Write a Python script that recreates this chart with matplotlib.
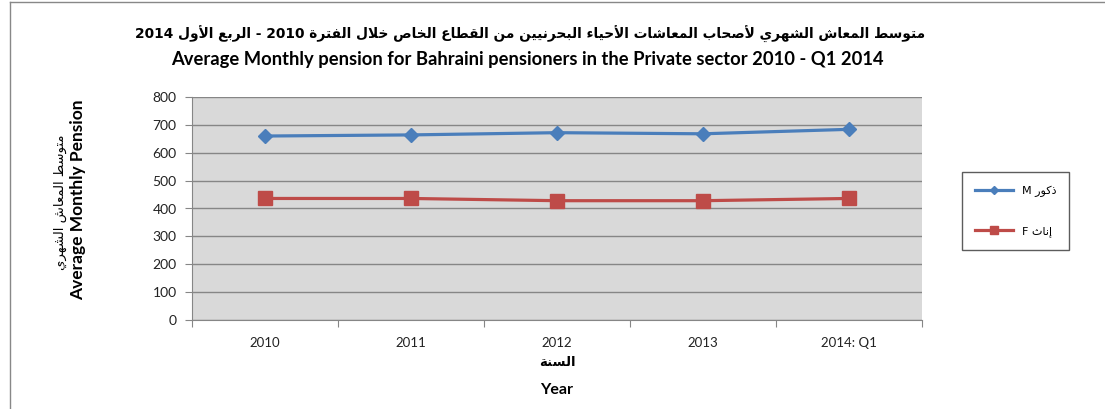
import numpy as np
import matplotlib
matplotlib.use('Agg')
import matplotlib.pyplot as plt
from matplotlib.lines import Line2D

plt.rcParams['font.family'] = ['Lato', 'DejaVu Sans']

# datos
years = ['2010', '2011', '2012', '2013', '2014: Q1']
male = [660, 664, 672, 668, 684]
female = [436, 436, 428, 428, 436]

title_ar = 'متوسط المعاش الشهري لأصحاب المعاشات الأحياء البحرنيين من القطاع الخاص خلال الفترة 2010 - الربع الأول 2014'
title_en = 'Average Monthly pension for Bahraini pensioners in the Private sector 2010 - Q1 2014'
ylabel_ar = 'متوسط المعاش الشهري'
ylabel_en = 'Average Monthly Pension'
xlabel_ar = 'السنة'
xlabel_en = 'Year'
legend_m = 'ذكور M'
legend_f = 'إناث F'

# formas de presentación árabes: (código aislado, tipo de unión)
# D = se une por ambos lados, R = solo a la derecha, U = no se une
FORMS = {
    'ء': (0xFE80, 'U'), 'أ': (0xFE83, 'R'), 'إ': (0xFE87, 'R'), 'ا': (0xFE8D, 'R'),
    'ب': (0xFE8F, 'D'), 'ة': (0xFE93, 'R'), 'ت': (0xFE95, 'D'), 'ث': (0xFE99, 'D'),
    'ح': (0xFEA1, 'D'), 'خ': (0xFEA5, 'D'), 'ذ': (0xFEAB, 'R'), 'ر': (0xFEAD, 'R'),
    'س': (0xFEB1, 'D'), 'ش': (0xFEB5, 'D'), 'ص': (0xFEB9, 'D'), 'ط': (0xFEC1, 'D'),
    'ع': (0xFEC9, 'D'), 'ف': (0xFED1, 'D'), 'ق': (0xFED5, 'D'), 'ك': (0xFED9, 'D'),
    'ل': (0xFEDD, 'D'), 'م': (0xFEE1, 'D'), 'ن': (0xFEE5, 'D'), 'ه': (0xFEE9, 'D'),
    'و': (0xFEED, 'R'), 'ي': (0xFEF1, 'D'),
}
LAM_ALEF = {'ا': 0xFEFB, 'أ': 0xFEF7, 'إ': 0xFEF9}


def shape_word(w):
    toks = []
    i = 0
    while i < len(w):
        if w[i] == 'ل' and i + 1 < len(w) and w[i + 1] in LAM_ALEF:
            toks.append((LAM_ALEF[w[i + 1]], 'R'))
            i += 2
        else:
            toks.append(FORMS.get(w[i], (ord(w[i]), 'X')))
            i += 1
    out = []
    for k, (base, kind) in enumerate(toks):
        if kind == 'X':
            out.append(chr(base))
            continue
        prev_j = k > 0 and toks[k - 1][1] == 'D' and kind in 'DR'
        next_j = kind == 'D' and k + 1 < len(toks) and toks[k + 1][1] in 'DR'
        if kind == 'U':
            off = 0
        elif prev_j and next_j:
            off = 3
        elif next_j:
            off = 2
        elif prev_j:
            off = 1
        else:
            off = 0
        out.append(chr(base + off))
    return ''.join(reversed(out))


def ar(text):
    words = text.split(' ')
    res = []
    for w in reversed(words):
        if any('\u0600' <= c <= '\u06ff' for c in w):
            res.append(shape_word(w))
        else:
            res.append(w)
    return ' '.join(res)


fig = plt.figure(figsize=(11.05, 4.09), dpi=100)
ax = fig.add_axes([192 / 1105, 1 - 320 / 409, 730 / 1105, 223 / 409])

x = np.arange(len(years))
ax.plot(x, male, color='#4a7ebb', lw=2.3, marker='D', ms=7, label=ar(legend_m), zorder=3)
ax.plot(x, female, color='#be4b48', lw=2.3, marker='s', ms=10.5, label=ar(legend_f), zorder=3)

ax.set_facecolor('#d9d9d9')
ax.set_xlim(-0.5, len(years) - 0.5)
ax.set_ylim(0, 800)
ax.set_yticks(np.arange(0, 801, 100))
ax.yaxis.grid(True, color='#868686', lw=1)
ax.set_axisbelow(True)

ax.set_xticks(np.arange(-0.5, len(years), 1))
ax.set_xticklabels([])
ax.set_xticks(x, minor=True)
ax.set_xticklabels(years, minor=True)
ax.tick_params(axis='x', which='minor', length=0, pad=12, labelsize=9.5, colors='#222222')
ax.tick_params(axis='x', which='major', length=5, color='#868686')
ax.tick_params(axis='y', length=5, color='#868686', labelsize=10, labelcolor='#222222', pad=6)

for s in ['top', 'right']:
    ax.spines[s].set_visible(False)
for s in ['left', 'bottom']:
    ax.spines[s].set_color('#868686')

# títulos
fig.text(530 / 1105, 1 - 34 / 409, ar(title_ar), ha='center', va='center', fontsize=9.9,
         fontweight='bold', family='DejaVu Sans')
fig.text(527 / 1105, 1 - 60 / 409, title_en, ha='center', va='center', fontsize=13.2,
         fontweight='bold')

# etiquetas de ejes
fig.text(60 / 1105, 1 - 202 / 409, ar(ylabel_ar), rotation=90, ha='center', va='center',
         fontsize=9.5, family='DejaVu Sans')
fig.text(78 / 1105, 1 - 200 / 409, ylabel_en, rotation=90, ha='center', va='center',
         fontsize=12.5, fontweight='bold')
fig.text(557 / 1105, 1 - 362 / 409, ar(xlabel_ar), ha='center', va='center', fontsize=9.5,
         fontweight='bold', family='DejaVu Sans')
fig.text(557 / 1105, 1 - 390 / 409, xlabel_en, ha='center', va='center', fontsize=11.5,
         fontweight='bold')

leg = ax.legend(loc='center left', bbox_to_anchor=(956 / 1105, 1 - 211 / 409),
                bbox_transform=fig.transFigure, frameon=True, fancybox=False,
                edgecolor='#333333', labelspacing=2.6, handlelength=3.4,
                borderpad=1.2, markerscale=0.6, prop={'family': 'DejaVu Sans', 'size': 8})
leg.get_frame().set_linewidth(1)

# marco exterior
fig.add_artist(Line2D([10 / 1105, 10 / 1105], [0, 1 - 2 / 409], color='#888888', lw=1))
fig.add_artist(Line2D([10 / 1105, 1], [1 - 2 / 409, 1 - 2 / 409], color='#888888', lw=1))

fig.savefig('out.png', dpi=100)
